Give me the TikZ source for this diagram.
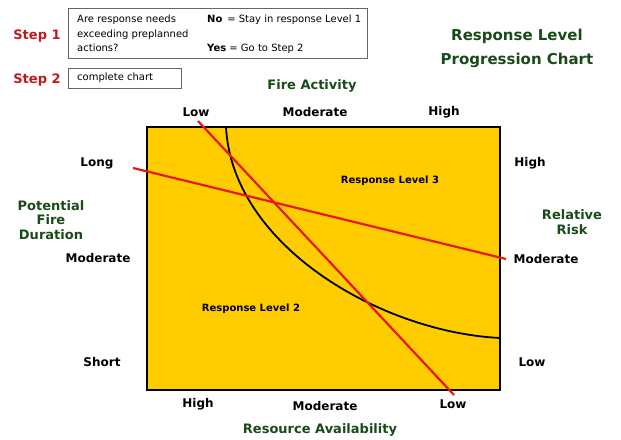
\documentclass[tikz,border=0pt]{standalone}
\usepackage{fontspec}
\setmainfont{DejaVu Sans}
\usepackage{tikz}
\usetikzlibrary{calc}
\definecolor{chartyellow}{RGB}{255,204,0}
\definecolor{chartred}{RGB}{230,25,25}
\definecolor{chartgreen}{RGB}{25,75,25}
\definecolor{stepred}{RGB}{190,25,30}
\tikzset{
  axislabel/.style={font=\bfseries\fontsize{12}{14}\selectfont, text=black, inner sep=0pt},
  axistitle/.style={font=\bfseries\fontsize{13}{14.5}\selectfont, text=chartgreen, inner sep=0pt, align=center},
  steplabel/.style={font=\bfseries\fontsize{13}{15}\selectfont, text=stepred, inner sep=0pt},
  boxtext/.style={font=\fontsize{10}{14.5}\selectfont, inner sep=0pt, anchor=north west, align=left},
  levellabel/.style={font=\bfseries\fontsize{10}{12}\selectfont, inner sep=0pt}
}

\begin{document}
\begin{tikzpicture}[x=1pt, y=-1pt]
		%%%%% START %%%%%
		\useasboundingbox (0, 0) rectangle (621, 439);
		
		% step boxes
		\draw[line width=0.9pt, color=black!60] (68, 8) rectangle (367, 58);
		\draw[line width=0.9pt, color=black!60] (68, 68) rectangle (181, 88);
		\node[steplabel] (step1) at (37, 36) {Step 1};
		\node[steplabel] (step2) at (37, 80) {Step 2};
		\node[boxtext] (question) at (77, 15) {Are response needs\\exceeding preplanned\\actions?};
		\node[boxtext] (answerno) at (207, 15) {\textbf{No}\, = Stay in response Level 1};
		\node[boxtext] (answeryes) at (207, 44) {\textbf{Yes} = Go to Step 2};
		\node[boxtext] (chartstep) at (77, 73) {complete chart};
		
		% title
		\node[axistitle, font=\bfseries\fontsize{15}{24}\selectfont] (title) at (517, 48) {Response Level\\Progression Chart};
		
		% chart
		\draw[line width=1.5pt, fill=chartyellow] (147, 127) rectangle (500, 390);
		\draw[line width=1.8pt] (226, 127) .. controls (232, 245) and (380, 332) .. (500, 338);
		\draw[line width=2.2pt, color=chartred] (133, 168) -- (506, 259);
		\draw[line width=2.2pt, color=chartred] (198, 121) -- (454, 395);
		\node[levellabel] (level3) at (390, 181) {Response Level 3};
		\node[levellabel] (level2) at (251, 309) {Response Level 2};
		
		% top axis
		\node[axistitle] (fireactivity) at (312, 86) {Fire Activity};
		\node[axislabel] (firelow) at (196, 112) {Low};
		\node[axislabel] (firemod) at (315, 112) {Moderate};
		\node[axislabel] (firehigh) at (444, 112) {High};
		
		% left axis
		\node[axistitle] (duration) at (51, 220) {Potential\\Fire\\Duration};
		\node[axislabel] (durlong) at (97, 163) {Long};
		\node[axislabel] (durmod) at (98, 258) {Moderate};
		\node[axislabel] (durshort) at (102, 362) {Short};
		
		% right axis
		\node[axistitle] (risk) at (572, 222) {Relative\\Risk};
		\node[axislabel] (riskhigh) at (530, 163) {High};
		\node[axislabel] (riskmod) at (546, 259) {Moderate};
		\node[axislabel] (risklow) at (532, 362) {Low};
		
		% bottom axis
		\node[axislabel] (reshigh) at (198, 404) {High};
		\node[axislabel] (resmod) at (325, 406) {Moderate};
		\node[axislabel] (reslow) at (453, 404) {Low};
		\node[axistitle] (resource) at (320, 430) {Resource Availability};
		%%%%% END %%%%%
	\end{tikzpicture}
\end{document}
